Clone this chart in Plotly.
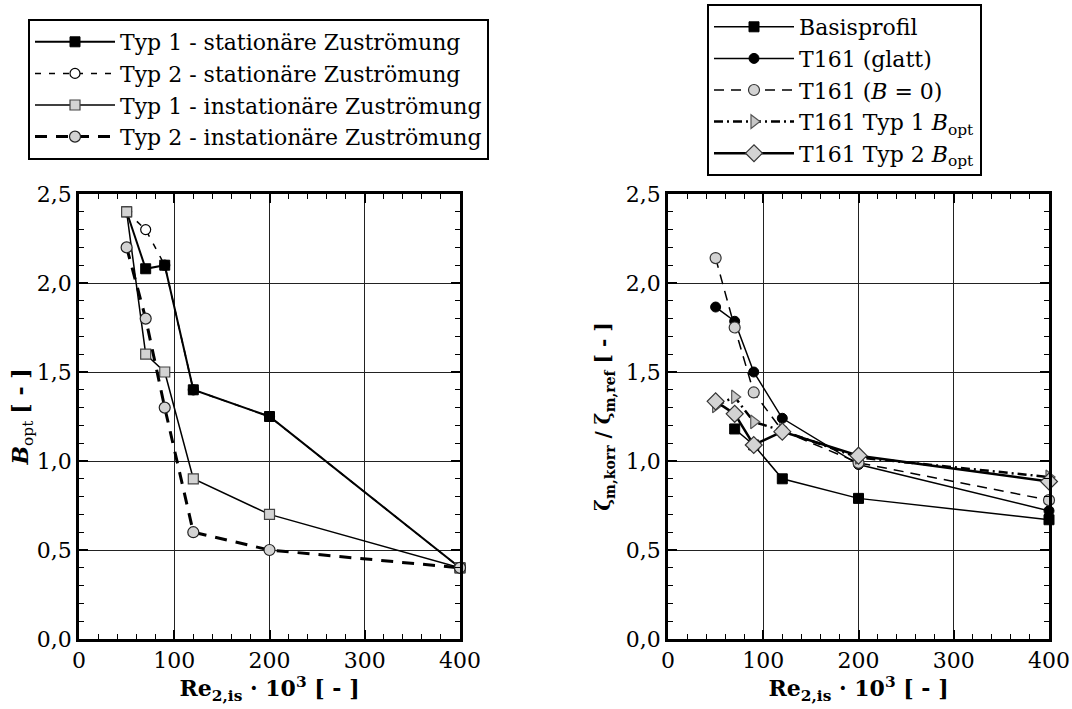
import plotly.graph_objects as go

# ---------- data ----------
re_x = [50, 70, 90, 120, 200, 400]

# left panel: B_opt
typ1_stat = [2.4, 2.08, 2.1, 1.4, 1.25, 0.4]
typ2_stat = [2.4, 2.3, 2.1, 1.4, 1.25, 0.4]
typ1_inst = [2.4, 1.6, 1.5, 0.9, 0.7, 0.4]
typ2_inst = [2.2, 1.8, 1.3, 0.6, 0.5, 0.4]

# right panel: zeta ratio
basis_x = [70, 90, 120, 200, 400]
basis_y = [1.18, 1.09, 0.9, 0.79, 0.67]
glatt_y = [1.865, 1.785, 1.5, 1.24, 0.98, 0.72]
b0_y = [2.14, 1.75, 1.385, 1.17, 0.99, 0.78]
t1_bopt_y = [1.31, 1.36, 1.22, 1.17, 1.02, 0.91]
t2_bopt_y = [1.335, 1.265, 1.09, 1.165, 1.03, 0.885]

x_ticks = [0, 100, 200, 300, 400]
y_ticks = [0.0, 0.5, 1.0, 1.5, 2.0, 2.5]

FONT = "DejaVu Serif"
W, H = 1072, 709
FS = 22

fig = go.Figure()

def add(x, y, name, xa, ya, legend, rank, symbol, size, fill, mline, lw, dash, lcol="black"):
    fig.add_trace(go.Scatter(
        x=x, y=y, name=name, mode="lines+markers",
        xaxis=xa, yaxis=ya, legend=legend, legendrank=rank,
        line=dict(color="black", width=lw, dash=dash),
        marker=dict(symbol=symbol, size=size, color=fill,
                    line=dict(color=lcol, width=mline)),
        cliponaxis=False,
    ))

# left panel (draw order chosen for overlaps, legend order via rank)
add(re_x, typ2_stat, "Typ 2 - stationäre Zuströmung", "x", "y", "legend", 2,
    "circle", 10, "white", 1.2, 1.5, "6px,8px")
add(re_x, typ1_stat, "Typ 1 - stationäre Zuströmung", "x", "y", "legend", 1,
    "square", 10, "black", 1, 2, "solid")
add(re_x, typ1_inst, "Typ 1 - instationäre Zuströmung", "x", "y", "legend", 3,
    "square", 10, "#d3d3d3", 1.2, 1.5, "solid", "#444")
add(re_x, typ2_inst, "Typ 2 - instationäre Zuströmung", "x", "y", "legend", 4,
    "circle", 11, "#d3d3d3", 1.2, 3, "12px,9px", "#222")

# right panel
add(basis_x, basis_y, "Basisprofil", "x2", "y2", "legend2", 1,
    "square", 10, "black", 1, 1.5, "solid")
add(re_x, glatt_y, "T161 (glatt)", "x2", "y2", "legend2", 2,
    "circle", 10, "black", 1, 1.5, "solid")
add(re_x, b0_y, "T161 (<i>B</i> = 0)", "x2", "y2", "legend2", 3,
    "circle", 11, "#d3d3d3", 1.2, 1.5, "10px,7px", "#333")
add(re_x, t1_bopt_y, "T161 Typ 1 <i>B</i><sub>opt</sub>", "x2", "y2", "legend2", 4,
    "triangle-right", 12, "#c8c8c8", 1.2, 2.5, "9px,4px,2px,4px", "#555")
add(re_x, t2_bopt_y, "T161 Typ 2 <i>B</i><sub>opt</sub>", "x2", "y2", "legend2", 5,
    "diamond", 13, "#d3d3d3", 1.2, 2.5, "solid", "#333")

y_top = 1 - 194 / H
y_bot = 1 - 639 / H

def xaxis(dom, anchor):
    return dict(
        domain=dom, anchor=anchor, range=[0, 400], tickvals=x_ticks,
        ticktext=[str(v) for v in x_ticks],
        ticks="inside", ticklen=9, tickwidth=2, tickcolor="black",
        ticklabeloverflow="allow",
        minor=dict(ticks="inside", ticklen=5, tickwidth=1, dtick=20, tick0=0, tickcolor="black"),
        showline=True, linewidth=2.5, linecolor="black", mirror="ticks",
        showgrid=True, gridcolor="#222", gridwidth=1, zeroline=False,
        tickfont=dict(family=FONT, size=FS, color="black"),
        title=dict(text="<b>Re<sub>2,is</sub> · 10<sup>3</sup> [ - ]</b>",
                   font=dict(family=FONT, size=FS, color="black"), standoff=2),
        automargin=False, fixedrange=True,
    )

def yaxis(anchor, title, standoff, tsize):
    return dict(
        domain=[y_bot, y_top], range=[0, 2.5], tickvals=y_ticks, tickformat=".1f",
        anchor=anchor,
        ticks="inside", ticklen=9, tickwidth=2, tickcolor="black",
        minor=dict(ticks="inside", ticklen=5, tickwidth=1, dtick=0.1, tick0=0, tickcolor="black"),
        showline=True, linewidth=2.5, linecolor="black", mirror="ticks",
        showgrid=True, gridcolor="#222", gridwidth=1, zeroline=False,
        tickfont=dict(family=FONT, size=FS, color="black"),
        title=dict(text=title, font=dict(family=FONT, size=tsize, color="black"), standoff=standoff),
        automargin=False, fixedrange=True,
    )

legend_common = dict(
    bgcolor="white", bordercolor="black", borderwidth=2,
    font=dict(family=FONT, size=FS, color="black"),
    xanchor="left", yanchor="top", itemwidth=80, tracegroupgap=0,
    traceorder="normal", itemclick=False, itemdoubleclick=False,
)

fig.update_layout(
    width=W, height=H,
    margin=dict(l=0, r=0, t=0, b=0),
    paper_bgcolor="white", plot_bgcolor="white",
    separators=",.",
    font=dict(family=FONT, color="black", size=FS),
    xaxis=xaxis([79 / W, 460 / W], "y"),
    yaxis=yaxis("x", "<b><i>B</i></b><sub>opt</sub> <b>[ - ]</b>", 2, FS),
    xaxis2=xaxis([668 / W, 1049 / W], "y2"),
    yaxis2=yaxis("x2", "<b>ζ<sub>m,korr</sub> / ζ<sub>m,ref</sub> [ - ]</b>", 10, 20),
    legend=dict(legend_common, x=28 / W, y=1 - 19 / H),
    legend2=dict(legend_common, x=707 / W, y=1 - 4 / H),
    showlegend=True,
)

fig.write_html(
    "out.html",
    config={"displayModeBar": False},
    post_script="document.body.style.margin='0';document.body.style.overflow='hidden';",
)
